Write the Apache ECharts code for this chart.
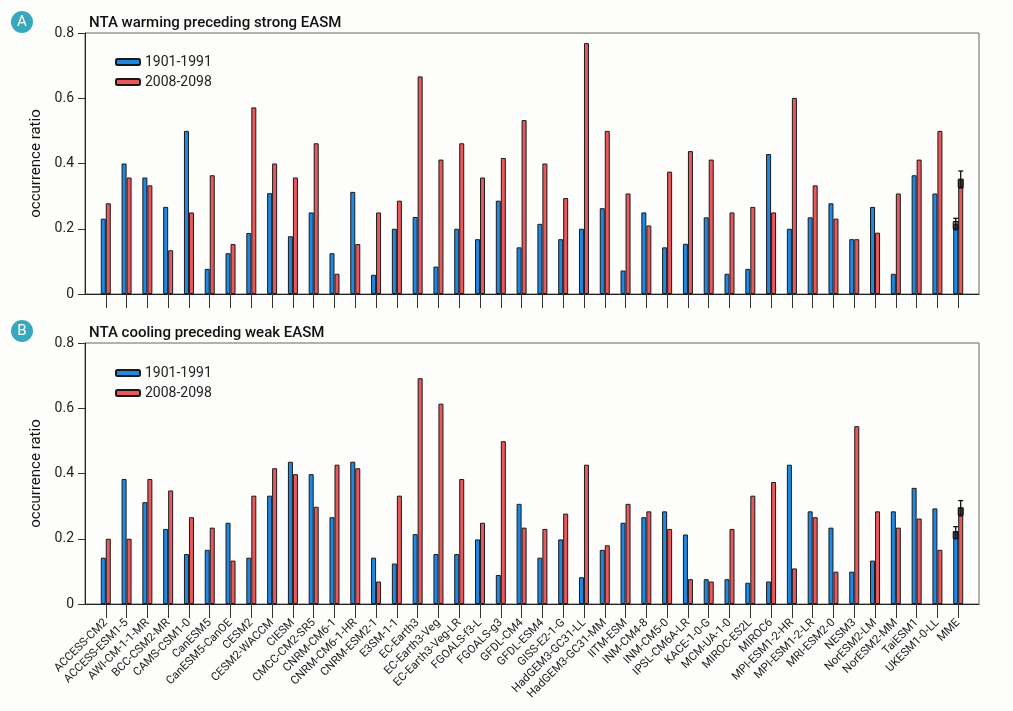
<!DOCTYPE html>
<html>
<head>
<meta charset="utf-8">
<script src="https://cdn.jsdelivr.net/npm/echarts@6/dist/echarts.min.js"></script>
<style>
html,body{margin:0;padding:0;background:#fdfdfc;}
#c{width:1013px;height:711px;}
</style>
</head>
<body>
<div id="c"></div>
<script>
const models = ['ACCESS-CM2','ACCESS-ESM1-5','AWI-CM-1-1-MR','BCC-CSM2-MR','CAMS-CSM1-0','CanESM5','CanESM5-CanOE','CESM2','CESM2-WACCM','CIESM','CMCC-CM2-SR5','CNRM-CM6-1','CNRM-CM6-1-HR','CNRM-ESM2-1','E3SM-1-1','EC-Earth3','EC-Earth3-Veg','EC-Earth3-Veg-LR','FGOALS-f3-L','FGOALS-g3','GFDL-CM4','GFDL-ESM4','GISS-E2-1-G','HadGEM3-GC31-LL','HadGEM3-GC31-MM','IITM-ESM','INM-CM4-8','INM-CM5-0','IPSL-CM6A-LR','KACE-1-0-G','MCM-UA-1-0','MIROC-ES2L','MIROC6','MPI-ESM1-2-HR','MPI-ESM1-2-LR','MRI-ESM2-0','NESM3','NorESM2-LM','NorESM2-MM','TaiESM1','UKESM1-0-LL','MME'];

const periods = ['1901-1991','2008-2098'];

// Panel A: NTA warming preceding strong EASM
const warmHist = [0.231,0.400,0.357,0.267,0.500,0.077,0.125,0.187,0.309,0.177,0.250,0.125,0.313,0.059,0.200,0.236,0.084,0.200,0.168,0.286,0.143,0.215,0.168,0.200,0.263,0.072,0.250,0.143,0.154,0.235,0.062,0.077,0.429,0.200,0.235,0.278,0.168,0.267,0.062,0.364,0.308,0.215];
const warmFut  = [0.278,0.357,0.333,0.134,0.250,0.364,0.153,0.572,0.400,0.357,0.462,0.062,0.153,0.250,0.286,0.667,0.412,0.462,0.357,0.417,0.533,0.400,0.294,0.769,0.500,0.308,0.210,0.375,0.438,0.412,0.250,0.267,0.250,0.601,0.333,0.231,0.168,0.188,0.308,0.412,0.500,0.352];

// Panel B: NTA cooling preceding weak EASM
const coolHist = [0.142,0.383,0.312,0.230,0.153,0.166,0.249,0.142,0.332,0.436,0.398,0.266,0.436,0.142,0.124,0.214,0.153,0.153,0.198,0.089,0.307,0.142,0.198,0.082,0.166,0.249,0.266,0.284,0.213,0.076,0.076,0.065,0.069,0.427,0.284,0.234,0.099,0.133,0.284,0.356,0.293,0.222];
const coolFut  = [0.200,0.200,0.383,0.348,0.266,0.234,0.133,0.332,0.416,0.398,0.298,0.427,0.416,0.069,0.332,0.692,0.614,0.383,0.249,0.499,0.234,0.230,0.277,0.427,0.180,0.307,0.284,0.230,0.076,0.069,0.230,0.332,0.374,0.109,0.266,0.099,0.545,0.284,0.234,0.262,0.166,0.295];

// MME spread: [whisker low, box low, box high, whisker high]
const warmHistErr = [0.197,0.199,0.222,0.232];
const warmFutErr  = [0.325,0.327,0.352,0.377];
const coolHistErr = [0.200,0.201,0.222,0.237];
const coolFutErr  = [0.270,0.273,0.295,0.317];

const yTicks = [0, 0.2, 0.4, 0.6, 0.8];

const cats = [''].concat(models, ['']);
const pad = arr => [null].concat(arr, [null]);
const mmeIdx = models.length; // index in padded category list

const BLUE = '#1f88e2';
const RED = '#e8585d';
const FONT = 'Roboto, "Noto Sans", sans-serif';

function xAxisCfg(gi, showLabels) {
  return {
    type: 'category', gridIndex: gi, data: cats, boundaryGap: false,
    axisLine: {lineStyle: {color: '#222', width: 1}},
    axisTick: {show: true, length: 14, lineStyle: {color: '#333'}, interval: (i) => i > 0 && i < cats.length - 1},
    axisLabel: {show: showLabels, rotate: 45, fontSize: 11.5, color: '#222', fontFamily: FONT, margin: 17, interval: (i) => i > 0 && i < cats.length - 1},
    splitLine: {show: false}
  };
}
function yAxisCfg(gi) {
  return {
    type: 'value', gridIndex: gi, min: yTicks[0], max: yTicks[yTicks.length - 1], interval: 0.2,
    name: 'occurrence ratio', nameLocation: 'middle', nameGap: 38,
    nameTextStyle: {fontSize: 15, color: '#111', fontFamily: FONT},
    axisLine: {show: true, lineStyle: {color: '#222'}},
    axisTick: {show: true, length: 7, lineStyle: {color: '#333'}},
    axisLabel: {fontSize: 14, color: '#222', fontFamily: FONT, margin: 11,
      formatter: v => (v === 0 ? '0' : v.toFixed(1))},
    splitLine: {show: false}
  };
}
function barSeries(name, data, gi, color) {
  return {
    name: name, type: 'bar', xAxisIndex: gi, yAxisIndex: gi, data: pad(data),
    barWidth: 5, barGap: '0%',
    itemStyle: {color: color, borderColor: '#1a1a1a', borderWidth: 1},
    emphasis: {disabled: true}, animation: false
  };
}
function errSeries(gi, histErr, futErr) {
  return {
    type: 'custom', xAxisIndex: gi, yAxisIndex: gi, animation: false, silent: true, z: 10,
    data: [[mmeIdx].concat(histErr, [-1]), [mmeIdx].concat(futErr, [1])],
    renderItem: function (params, api) {
      const x = api.value(0), side = api.value(5);
      const pLo = api.coord([x, api.value(1)]);
      const pB1 = api.coord([x, api.value(2)]);
      const pB2 = api.coord([x, api.value(3)]);
      const pHi = api.coord([x, api.value(4)]);
      const cx = pLo[0] + side * 2.5;
      const st = {stroke: '#111', lineWidth: 1.3};
      return {type: 'group', children: [
        {type: 'line', shape: {x1: cx, y1: pLo[1], x2: cx, y2: pHi[1]}, style: st},
        {type: 'line', shape: {x1: cx - 2.5, y1: pHi[1], x2: cx + 2.5, y2: pHi[1]}, style: st},
        {type: 'line', shape: {x1: cx - 2.5, y1: pLo[1], x2: cx + 2.5, y2: pLo[1]}, style: st},
        {type: 'rect', shape: {x: cx - 2.5, y: pB2[1], width: 5, height: pB1[1] - pB2[1]},
          style: {fill: 'rgba(40,20,20,0.55)', stroke: '#111', lineWidth: 1}}
      ]};
    }
  };
}
function legendCfg(top) {
  return {
    data: periods, orient: 'vertical', left: 110, top: top,
    itemWidth: 24, itemHeight: 6, itemGap: 6, selectedMode: false,
    textStyle: {fontSize: 14, color: '#222', fontFamily: FONT}
  };
}
function badge(letter, cy) {
  return {type: 'group', children: [
    {type: 'circle', shape: {cx: 22, cy: cy, r: 11}, style: {fill: '#38a9bd'}},
    {type: 'text', x: 22, y: cy, style: {text: letter, fill: '#fff', font: '15px ' + FONT, align: 'center', verticalAlign: 'middle'}}
  ]};
}

const chart = echarts.init(document.getElementById('c'), null, {renderer: 'canvas'});
chart.setOption({
  backgroundColor: '#fdfdfc',
  animation: false,
  title: [
    {text: 'NTA warming preceding strong EASM', left: 84, top: 11, textStyle: {fontSize: 15, fontWeight: 500, color: '#111', fontFamily: FONT}},
    {text: 'NTA cooling preceding weak EASM', left: 84, top: 321, textStyle: {fontSize: 15, fontWeight: 500, color: '#111', fontFamily: FONT}}
  ],
  grid: [
    {left: 85, right: 34, top: 33, height: 261, show: true, borderColor: '#666', borderWidth: 1, backgroundColor: 'transparent'},
    {left: 85, right: 34, top: 343, height: 261, show: true, borderColor: '#666', borderWidth: 1, backgroundColor: 'transparent'}
  ],
  legend: [legendCfg(50), legendCfg(361)],
  xAxis: [xAxisCfg(0, false), xAxisCfg(1, true)],
  yAxis: [yAxisCfg(0), yAxisCfg(1)],
  series: [
    barSeries(periods[0], warmHist, 0, BLUE),
    barSeries(periods[1], warmFut, 0, RED),
    barSeries(periods[0], coolHist, 1, BLUE),
    barSeries(periods[1], coolFut, 1, RED),
    errSeries(0, warmHistErr, warmFutErr),
    errSeries(1, coolHistErr, coolFutErr)
  ],
  graphic: [badge('A', 22), badge('B', 331)]
});
</script>
</body>
</html>
